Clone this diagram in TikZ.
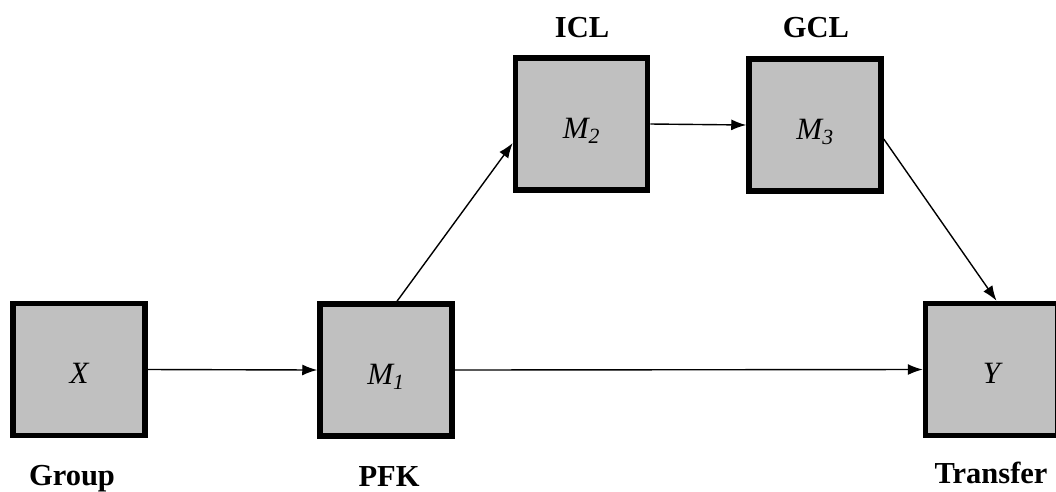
\documentclass[tikz,border=0pt]{standalone}
\usepackage{fontspec}
\setmainfont{Liberation Serif}
\usetikzlibrary{arrows.meta}
\definecolor{boxgray}{HTML}{C0C0C0}
\tikzset{
  varbox/.style={draw=black, line width=5.5pt, fill=boxgray, minimum width=132pt, minimum height=132pt, inner sep=0pt, text height=28pt, text depth=0pt, font=\fontsize{31}{36}\selectfont\itshape},
  lbl/.style={anchor=base, inner sep=0pt, font=\fontsize{30.5}{36}\selectfont\bfseries},
  conn/.style={line width=1.4pt, -{Latex[length=15pt,width=11pt]}}
}
\begin{document}
\begin{tikzpicture}[x=1pt,y=-1pt]
\useasboundingbox (0,0) rectangle (1056,491);
\node[varbox] (X) at (79,369.5) {X};
\node[varbox] (M1) at (386,370) {M\textsubscript{1}};
\node[varbox] (M2) at (581.5,124) {M\textsubscript{2}};
\node[varbox] (M3) at (815,125) {M\textsubscript{3}};
\node[varbox] (Y) at (991.5,369.5) {Y};
\node[lbl] (lgroup) at (72,485) {Group};
\node[lbl] (lpfk) at (389,486) {PFK};
\node[lbl] (licl) at (582,37) {ICL};
\node[lbl] (lgcl) at (816,37) {GCL};
\node[lbl] (ltransfer) at (991,483) {Transfer};
\draw[conn] (X.east) -- (M1.west);
\draw[conn] (M1.east) -- (Y.west);
\draw[conn] ([xshift=11pt]M1.north) -- ([yshift=-19pt]M2.west);
\draw[conn] (M2.east) -- (M3.west);
\draw[conn] ([yshift=-14pt]M3.east) -- ([xshift=5pt]Y.north);
\end{tikzpicture}
\end{document}
